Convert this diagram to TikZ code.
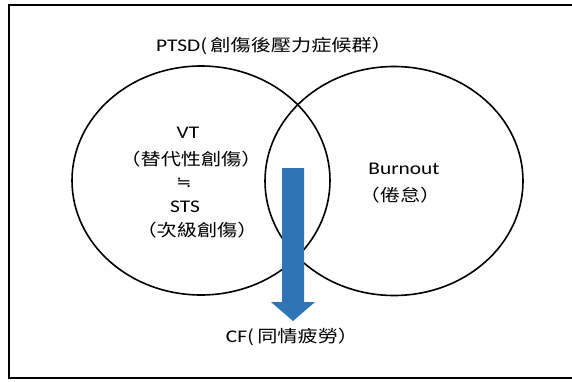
\documentclass[tikz,border=0pt]{standalone}
\usepackage{fontspec}
\usepackage{graphicx}
\usetikzlibrary{shapes.geometric}
\setmainfont{Carlito}
\newfontfamily\cjkfont{Noto Sans CJK TC}
\newfontfamily\symfont{DejaVu Sans}
\newcommand\myzh[1]{{\fontsize{16.8}{20}\cjkfont #1}}
\newcommand\myhs[1]{\scalebox{1.2}[1]{#1}}
\definecolor{arrowblue}{HTML}{2E75B6}
\begin{document}
\begin{tikzpicture}[x=1pt,y=-1pt,
  lbl/.style={inner sep=0pt, font=\fontsize{17.8}{20}\selectfont, text=black},
  venn/.style={draw=black, line width=1.6pt, ellipse, minimum width=258, minimum height=229, inner sep=0pt}]
\useasboundingbox (0,0) rectangle (572,381);
\fill[white] (0,0) rectangle (572,381);
\draw[line width=2.6pt] (9,5) rectangle (580,378);
% circles
\node[venn] (lc) at (201,180.5) {};
\node[venn] (rc) at (394,181) {};
% arrow
\coordinate (atop) at (293,168);
\coordinate (atip) at (293,321);
\fill[arrowblue] (282,168) -- (304,168) -- (304,302) -- (315,302) -- (atip) -- (271,302) -- (282,302) -- cycle;
% texts
\node[lbl] (title) at (274,46) {\myhs{PTSD\myzh{(\,創傷後壓力症候群）}}};
\node[lbl] (vt) at (188,133) {\myhs{VT}};
\node[lbl] (vtzh) at (191,159) {\myhs{\myzh{（替代性創傷）}}};
\node[lbl] (approx) at (184,183) {\myhs{{\fontsize{15}{18}\symfont ≒}}};
\node[lbl] (sts) at (185,207) {\myhs{STS}};
\node[lbl] (stszh) at (197,230) {\myhs{\myzh{（次級創傷）}}};
\node[lbl] (bo) at (404,169) {\myhs{Burnout}};
\node[lbl] (bozh) at (400,195) {\myhs{\myzh{（倦怠）}}};
\node[lbl] (cf) at (292,337) {\myhs{CF\myzh{(\,同情疲勞）}}};
\end{tikzpicture}
\end{document}
